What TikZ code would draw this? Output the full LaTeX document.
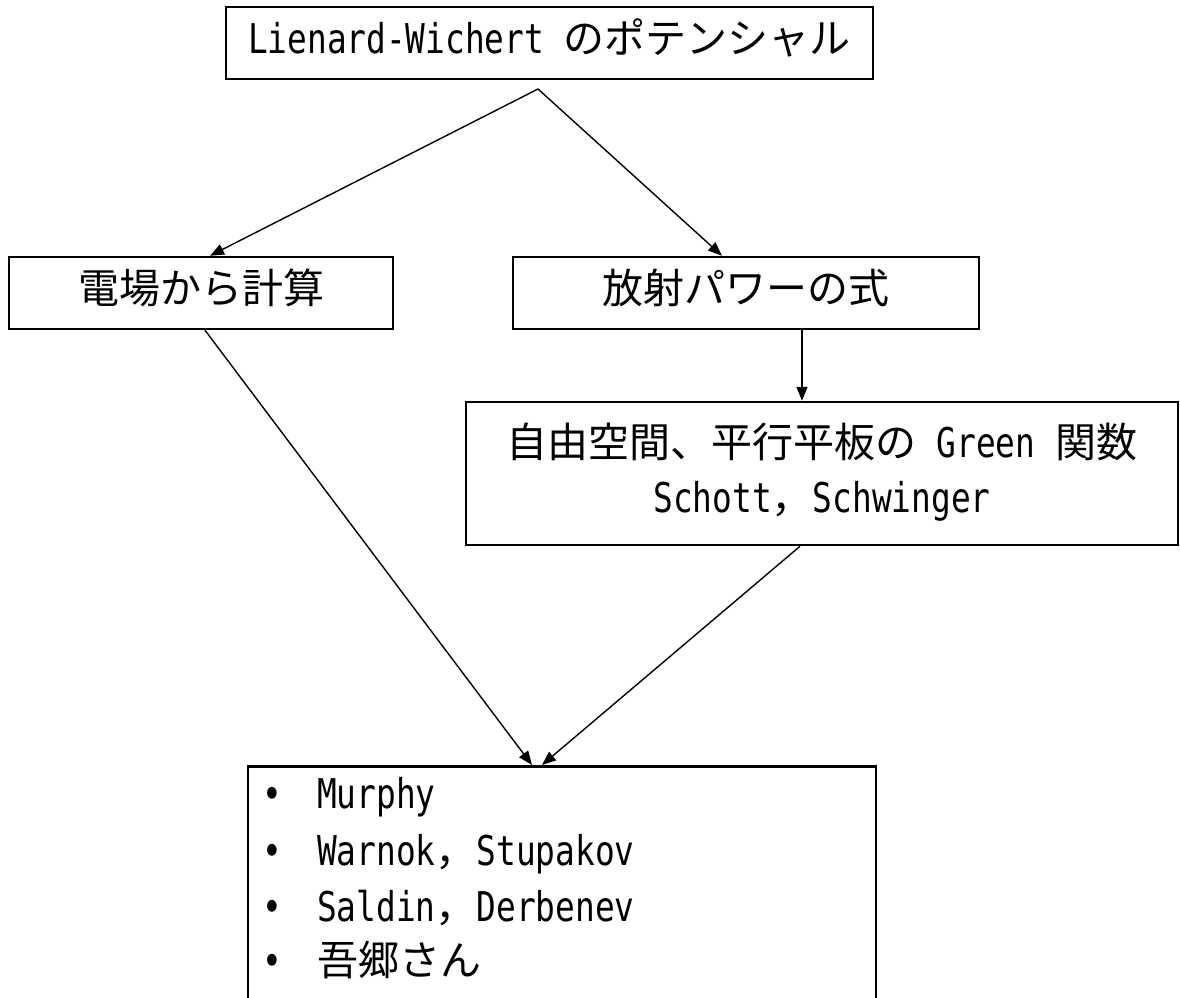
\documentclass[tikz,border=0pt]{standalone}
\usepackage{fontspec}
\setmainfont{Noto Sans CJK JP}
\newfontfamily\lat[FakeStretch=0.8]{DejaVu Sans Mono}
\usetikzlibrary{arrows.meta}
\begin{document}
\begin{tikzpicture}[x=1pt,y=-1pt,
  box/.style={draw, line width=2.5pt, inner sep=0pt, font=\fontsize{41}{50}\selectfont, text height=31pt, text depth=10pt},
  txt/.style={anchor=base, inner sep=0pt, font=\fontsize{41}{50}\selectfont},
  conn/.style={line width=1.4pt, -{Triangle[length=14pt,width=11pt]}},
]
\path[use as bounding box, clip] (0,0) rectangle (1180,997);
\fill[white] (0,0) rectangle (1180,997);
% boxes
\node[box, minimum width=647pt, minimum height=72pt] (lw) at (549.5,43) {{\lat Lienard-Wichert\ }のポテンシャル};
\node[box, minimum width=384pt, minimum height=72pt] (elec) at (201,293) {電場から計算};
\node[box, minimum width=466pt, minimum height=72pt] (power) at (746,293) {放射パワーの式};
\node[box, minimum width=712pt, minimum height=143pt] (green) at (822,473.5) {};
\node[txt] (g1) at (822,457) {自由空間、平行平板の{\lat\ Green\ }関数};
\node[txt] (g2) at (822,512) {{\lat Schott}，{\lat Schwinger}};
\node[box, minimum width=628pt, minimum height=280pt, anchor=north] (refs) at (562,765) {};
\node[txt, anchor=base west] (r1) at (262,808) {\makebox[55pt][l]{\lat •}{\lat Murphy}};
\node[txt, anchor=base west] (r2) at (262,865) {\makebox[55pt][l]{\lat •}{\lat Warnok}，{\lat Stupakov}};
\node[txt, anchor=base west] (r3) at (262,921) {\makebox[55pt][l]{\lat •}{\lat Saldin}，{\lat Derbenev}};
\node[txt, anchor=base west] (r4) at (262,975) {\makebox[55pt][l]{\lat •}吾郷さん};
% connectors
\coordinate (apex) at (538,89);
\draw[conn] (apex) -- ([xshift=9pt]elec.north);
\draw[conn] (apex) -- ([xshift=-24pt]power.north);
\draw[conn] ([xshift=56pt]power.south) -- ([xshift=-20pt]green.north);
\draw[conn] ([xshift=4pt]elec.south) -- ([xshift=-30pt]refs.north);
\draw[conn] ([xshift=-22pt]green.south) -- ([xshift=-20pt]refs.north);
\end{tikzpicture}
\end{document}
